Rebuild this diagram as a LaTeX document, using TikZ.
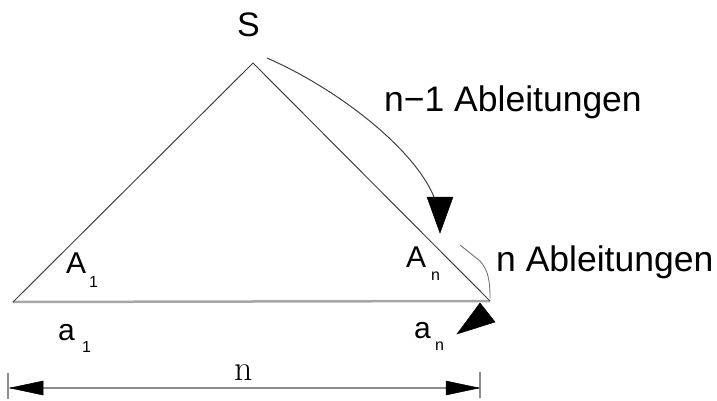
\documentclass[tikz,border=0pt]{standalone}
\usepackage{fontspec}
\setmainfont{Liberation Sans}
\newfontfamily\lmserif{Latin Modern Roman}
\begin{document}
\begin{tikzpicture}[x=1pt,y=-1pt,
  lbl/.style={inner sep=0pt,anchor=base west,font=\fontsize{30}{30}\selectfont},
  sub/.style={inner sep=0pt,anchor=base west,font=\fontsize{16}{16}\selectfont},
  big/.style={inner sep=0pt,anchor=base west,font=\fontsize{35.5}{35.5}\selectfont},
  side/.style={draw=black!75,line width=1pt},
  baseln/.style={draw=black!35,line width=2.5pt},
  dimln/.style={draw=black!45,line width=1.5pt},
  curveln/.style={draw=black!75,line width=1pt},
  tipfill/.style={fill=black,draw=black,line width=0.5pt}]
\useasboundingbox (0,0) rectangle (717,401);
% vertices
\coordinate (L) at (13,302);
\coordinate (T) at (253,63);
\coordinate (R) at (490,301);
\draw[baseln] (L) -- (R);
\draw[side] (L) -- (T) -- (R);
% labels
\node[lbl, font=\fontsize{34}{34}\selectfont] (S) at (237,37) {S};
\node[lbl] (A1) at (66,273) {A};
\node[sub] (A1s) at (89,287) {1};
\node[lbl] (An) at (406,267) {A};
\node[sub] (Ans) at (431,280) {n};
\node[lbl] (a1) at (58,340) {a};
\node[sub] (a1s) at (82,352) {1};
\node[lbl] (an) at (414,338) {a};
\node[sub] (ans) at (435,350) {n};
\node[big] (t1) at (384,112) {n−1 Ableitungen};
\node[big] (t2) at (496,271) {n Ableitungen};
% curved arrow 1
\coordinate (c1s) at (267,58);
\coordinate (c1e) at (434,197);
\draw[curveln] (c1s) .. controls (340,90) and (415,150) .. (c1e);
\coordinate (h1a) at (427,197);
\coordinate (h1b) at (453,197);
\coordinate (h1c) at (440,233);
\fill[tipfill] (h1a) -- (h1b) -- (h1c) -- cycle;
% curved arrow 2
\coordinate (c2s) at (460,245);
\coordinate (c2e) at (490,298);
\draw[draw=black!60,line width=0.8pt] (c2s) -- (480,261) .. controls (488,270) and (490,280) .. (c2e);
\coordinate (h2a) at (480,303);
\coordinate (h2b) at (495,322);
\coordinate (h2c) at (457,334);
\fill[tipfill] (h2a) -- (h2b) -- (h2c) -- cycle;
% dimension
\coordinate (dl) at (10,388);
\coordinate (dr) at (479,388);
\draw[dimln] (dl) -- (dr);
\draw[dimln] (8,373) -- (8,399);
\draw[dimln] (480,372) -- (480,398);
\fill[tipfill] (dl) -- (43,381) -- (43,395) -- cycle;
\fill[tipfill] (dr) -- (446,381) -- (446,395) -- cycle;
\node[inner sep=0pt,anchor=base west,font=\lmserif\fontsize{36}{36}\selectfont] (nlab) at (234,380) {n};
\end{tikzpicture}
\end{document}
